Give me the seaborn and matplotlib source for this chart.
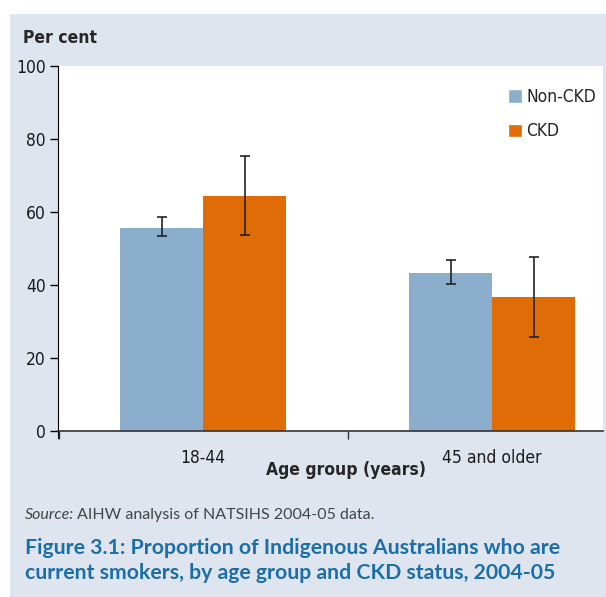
import pandas as pd
import matplotlib
matplotlib.use("Agg")
import matplotlib.pyplot as plt
from matplotlib.patches import Rectangle
import seaborn as sns

# dati (per cento)
age_groups = ["18-44", "45 and older"]
status = ["Non-CKD", "CKD"]
non_ckd = [55.6, 43.3]
non_ckd_low = [53.4, 40.3]
non_ckd_high = [58.5, 46.8]
ckd = [64.4, 36.7]
ckd_low = [53.6, 25.8]
ckd_high = [75.3, 47.6]
y_ticks = [0, 20, 40, 60, 80, 100]

colori = {"Non-CKD": "#8aaecb", "CKD": "#e06c07"}
sfondo = "#dfe5ef"
blu_titolo = "#1b6ea6"

df = pd.DataFrame({
    "group": age_groups * 2,
    "status": [status[0]] * 2 + [status[1]] * 2,
    "value": non_ckd + ckd,
})
low = {"Non-CKD": non_ckd_low, "CKD": ckd_low}
high = {"Non-CKD": non_ckd_high, "CKD": ckd_high}
vals = {"Non-CKD": non_ckd, "CKD": ckd}

sns.set_style("white")
plt.rcParams["font.family"] = ["DejaVu Sans"]
plt.rcParams["font.stretch"] = "condensed"

W, H = 606, 597
fig = plt.figure(figsize=(W / 100, H / 100), dpi=100, facecolor="white")
fig.patches.append(Rectangle((10 / W, 0), 1 - 10 / W, 1 - 14 / H,
                             transform=fig.transFigure, facecolor=sfondo,
                             edgecolor="none", zorder=-5))

ax = fig.add_axes([58 / W, (H - 431) / H, 545 / W, 365 / H])
ax.set_facecolor("white")

sns.barplot(data=df, x="group", y="value", hue="status", hue_order=status,
            order=age_groups, palette=colori, width=0.574, gap=0,
            saturation=1, errorbar=None, linewidth=0, ax=ax, legend=False)

for cont, s in zip(ax.containers, status):
    xs = [p.get_x() + p.get_width() / 2 for p in cont]
    yerr = [[v - l for v, l in zip(vals[s], low[s])],
            [h - v for v, h in zip(vals[s], high[s])]]
    ax.errorbar(xs, vals[s], yerr=yerr, fmt="none", ecolor="#222222",
                elinewidth=1.2, capsize=3.5, capthick=1.2, zorder=5)

ax.set_ylim(0, 100)
ax.set_xlim(-0.502, 1.384)
ax.set_yticks(y_ticks)
ax.set_yticklabels([str(t) for t in y_ticks], fontsize=12.5, color="#1a1a1a")
ax.tick_params(axis="y", direction="out", length=6, width=1, color="black",
               left=True, pad=3)
ax.tick_params(axis="x", which="major", length=0, pad=13, labelsize=12.5,
               labelcolor="#1a1a1a")
ax.set_xticks([-0.5, 0.5], minor=True)
ax.tick_params(axis="x", which="minor", direction="out", length=6, width=1,
               color="#333333", bottom=True)
for s in ["top", "right"]:
    ax.spines[s].set_visible(False)
ax.spines["left"].set_color("black")
ax.spines["bottom"].set_color("#333333")
ax.spines["left"].set_bounds(-1.8, 100)
ax.spines["bottom"].set_linewidth(1.2)

ax.set_ylabel("")
ax.set_xlabel("Age group (years)", fontsize=12.5, fontweight="bold")
ax.xaxis.set_label_coords(0.528, -0.083)

handles = [Rectangle((0, 0), 1, 1, facecolor=colori[s]) for s in status]
ax.legend(handles, status, loc="upper left", bbox_to_anchor=(0.826, 0.94),
          frameon=False, fontsize=12.5, handlelength=0.8, handleheight=0.8,
          handletextpad=0.25, labelspacing=0.95, borderpad=0, borderaxespad=0)

fig.text(23 / W, 1 - 38 / H, "Per cent", fontsize=12.5, fontweight="bold",
         va="center", ha="left")

# fonte e titolo
fig.canvas.draw()
r = fig.canvas.get_renderer()
t1 = fig.text(25 / W, 1 - 515 / H, "Source:", fontsize=11.5, style="italic",
              family=["Lato", "DejaVu Sans"], stretch="normal",
              color="#444444", va="center")
bb = t1.get_window_extent(r)
fig.text((bb.x1 + 3) / W, 1 - 515 / H, "AIHW analysis of NATSIHS 2004-05 data.",
         fontsize=11.5, family=["Lato", "DejaVu Sans"], stretch="normal",
         color="#444444", va="center")

fig.text(25 / W, 1 - 548 / H,
         "Figure 3.1: Proportion of Indigenous Australians who are",
         fontsize=15.3, fontweight="bold", family=["Lato", "DejaVu Sans"],
         stretch="normal", color=blu_titolo, va="center")
fig.text(25 / W, 1 - 573 / H,
         "current smokers, by age group and CKD status, 2004-05",
         fontsize=15.3, fontweight="bold", family=["Lato", "DejaVu Sans"],
         stretch="normal", color=blu_titolo, va="center")

plt.savefig("out.png", dpi=100, facecolor="white")
